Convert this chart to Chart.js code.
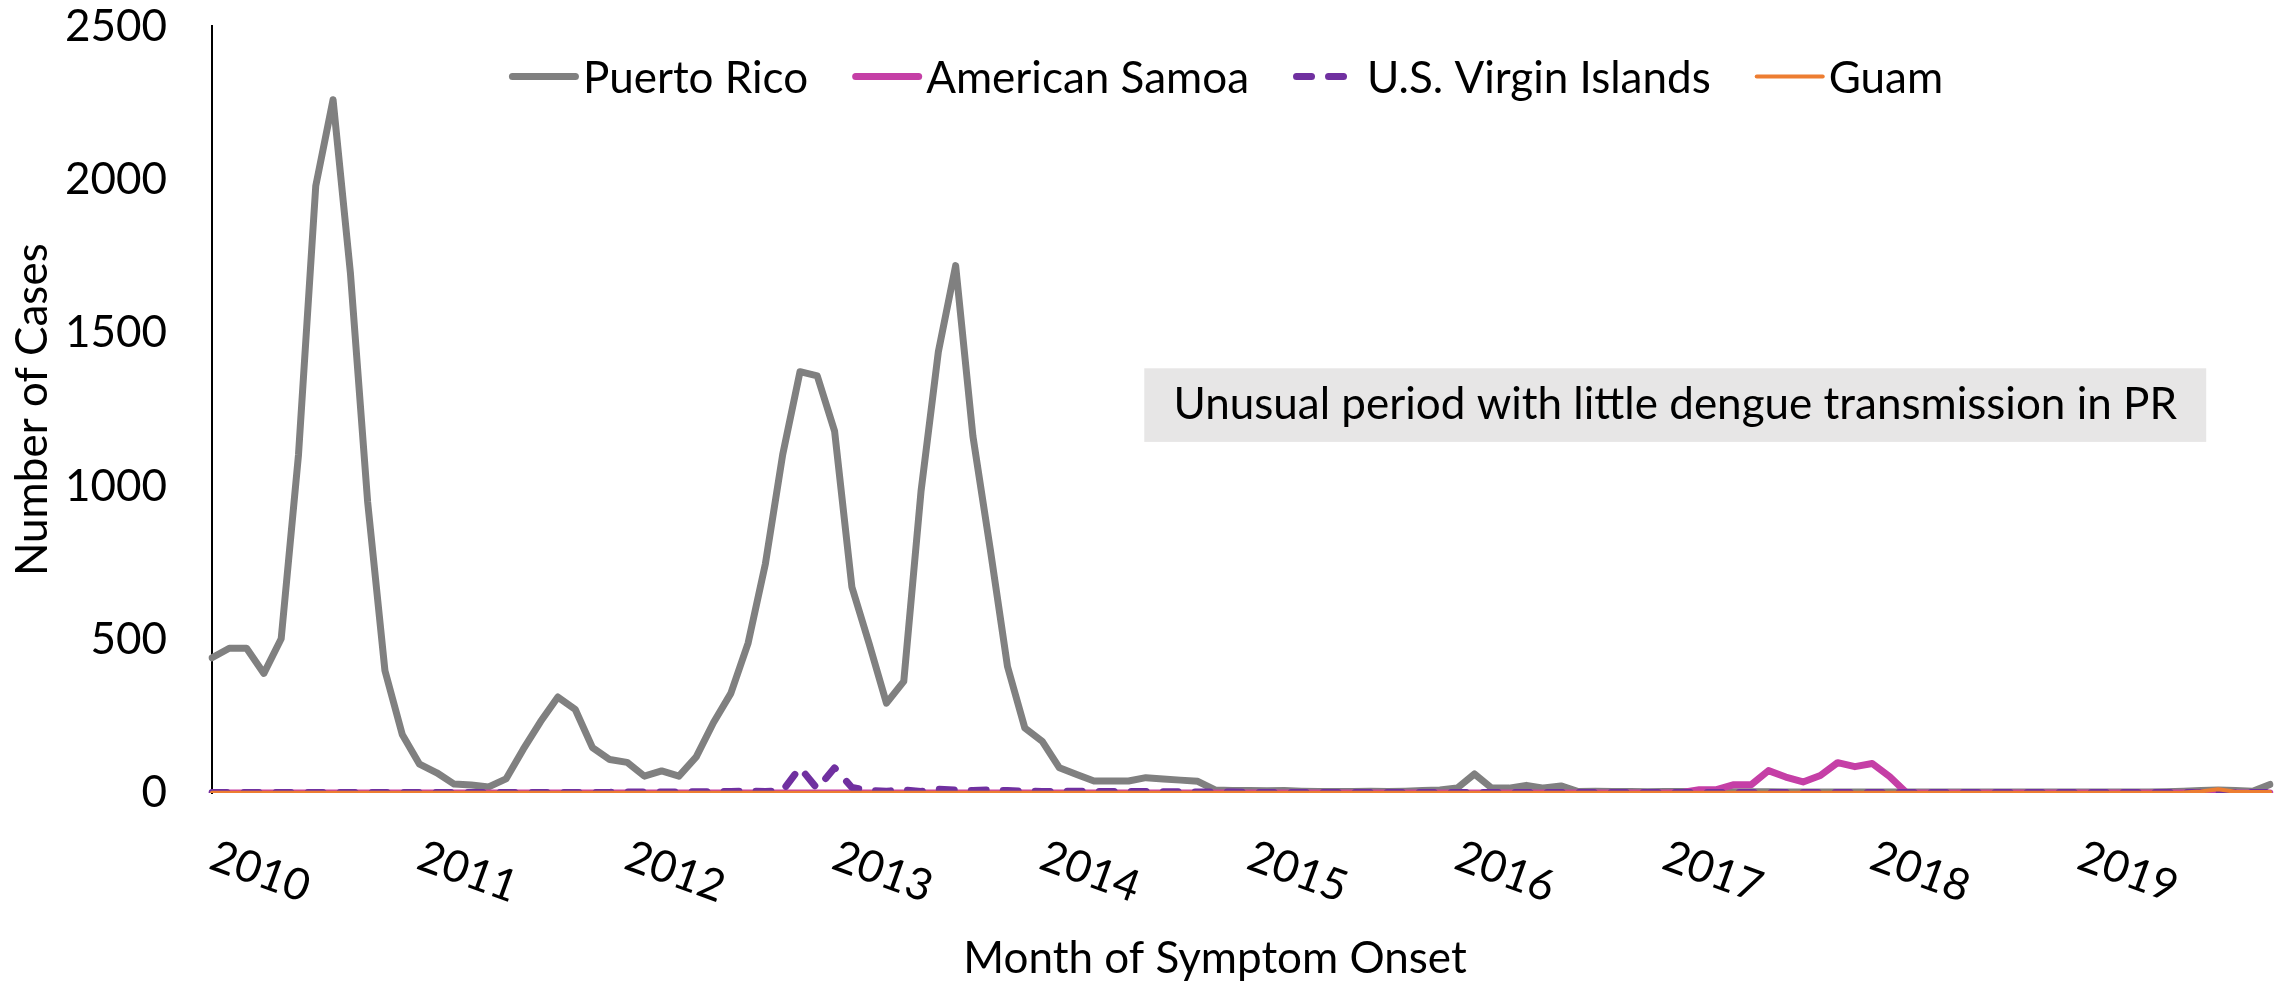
<!DOCTYPE html>
<html>
<head>
<meta charset="utf-8">
<title>Dengue cases by month of symptom onset</title>
<script src="https://cdn.jsdelivr.net/npm/chart.js@4.4.1/dist/chart.umd.min.js"></script>
<style>
    html, body { margin: 0; padding: 0; background: #fff; }
    #wrap { width: 2288px; height: 984px; }
</style>
</head>
<body>
<div id="wrap"><canvas id="casesChart" width="2288" height="984"></canvas></div>
<script>
const years = ["2010", "2011", "2012", "2013", "2014", "2015", "2016", "2017", "2018", "2019"];
const monthNames = ["Jan", "Feb", "Mar", "Apr", "May", "Jun", "Jul", "Aug", "Sep", "Oct", "Nov", "Dec"];

// monthly cases, Jan 2010 .. Dec 2019 (one row per year)
const puertoRico = [
    441, 472, 472, 390, 503, 1102, 1980, 2261, 1698, 949, 399, 191,
    94, 66, 29, 26, 20, 46, 143, 233, 313, 273, 148, 109,
    100, 55, 72, 55, 118, 230, 325, 489, 748, 1104, 1374, 1360,
    1180, 672, 487, 293, 364, 985, 1439, 1720, 1163, 796, 412, 212,
    169, 82, 60, 39, 39, 39, 50, 46, 42, 38, 10, 8,
    8, 7, 8, 6, 5, 5, 5, 6, 5, 6, 8, 10,
    16, 62, 16, 16, 25, 16, 23, 5, 6, 5, 5, 4,
    5, 5, 4, 4, 4, 4, 4, 3, 3, 3, 3, 3,
    3, 3, 3, 3, 3, 3, 3, 3, 3, 3, 3, 3,
    3, 3, 3, 3, 3, 4, 6, 8, 10, 8, 6, 28
];
const americanSamoa = [
    0, 0, 0, 0, 0, 0, 0, 0, 0, 0, 0, 0,
    0, 0, 0, 0, 0, 0, 0, 0, 0, 0, 0, 0,
    0, 0, 0, 0, 0, 0, 0, 0, 0, 0, 0, 0,
    0, 0, 0, 0, 0, 0, 0, 0, 0, 0, 0, 0,
    0, 0, 0, 0, 0, 0, 0, 0, 0, 0, 0, 0,
    0, 0, 0, 0, 0, 0, 0, 0, 0, 0, 0, 0,
    0, 0, 0, 0, 0, 0, 0, 0, 0, 0, 0, 0,
    0, 2, 11, 11, 27, 27, 73, 52, 36, 57, 99, 86,
    96, 54, 0, 0, 0, 0, 0, 0, 0, 0, 0, 0,
    0, 0, 0, 0, 0, 0, 0, 0, 0, 0, 0, 0
];
const virginIslands = [
    2, 2, 2, 2, 2, 2, 2, 2, 2, 2, 2, 2,
    2, 2, 2, 2, 2, 2, 2, 2, 2, 2, 2, 2,
    3, 3, 3, 3, 4, 4, 5, 6, 5, 8, 83, 14,
    82, 18, 8, 6, 10, 5, 12, 10, 8, 10, 8, 6,
    5, 5, 6, 5, 5, 5, 5, 4, 4, 3, 3, 3,
    2, 2, 2, 2, 2, 2, 2, 2, 2, 2, 2, 2,
    2, 2, 2, 2, 2, 2, 2, 2, 2, 2, 2, 2,
    2, 2, 2, 2, 2, 2, 2, 2, 2, 2, 2, 2,
    2, 2, 2, 2, 2, 2, 2, 2, 2, 2, 2, 2,
    2, 2, 2, 2, 2, 2, 2, 2, 2, 2, 2, 2
];
const guam = [
    1, 1, 1, 1, 1, 1, 1, 1, 1, 1, 1, 1,
    1, 1, 1, 1, 1, 1, 1, 1, 1, 1, 1, 1,
    1, 1, 1, 1, 1, 1, 1, 1, 1, 1, 1, 1,
    1, 1, 1, 1, 1, 1, 1, 1, 1, 1, 1, 1,
    1, 1, 1, 1, 1, 1, 1, 1, 1, 1, 1, 1,
    1, 1, 1, 1, 1, 1, 1, 1, 1, 1, 1, 1,
    1, 1, 1, 1, 1, 1, 1, 1, 1, 1, 1, 1,
    1, 1, 1, 1, 1, 1, 1, 1, 1, 1, 1, 1,
    1, 1, 1, 1, 1, 1, 1, 1, 1, 1, 1, 1,
    1, 1, 1, 1, 1, 1, 2, 5, 12, 4, 3, 3
];
const noteText = "Unusual period with little dengue transmission in PR";
const xTitle = "Month of Symptom Onset";

const months = years.flatMap(y => monthNames.map(m => `${m} ${y}`));
const fontFamily = "Lato";
const fontSize = 44;

// rotated year labels under the first month of each year, plus the x title
const yearLabels = {
    id: "yearLabels",
    afterDraw(chart) {
        const ctx = chart.ctx;
        const x = chart.scales.x;
        ctx.save();
        ctx.font = `${fontSize}px ${fontFamily}`;
        ctx.fillStyle = "#000";
        ctx.textAlign = "center";
        ctx.textBaseline = "middle";
        years.forEach((yr, k) => {
            const px = x.getPixelForValue(k * 12);
            ctx.save();
            ctx.translate(px + 48, x.top + 79);
            ctx.rotate(20 * Math.PI / 180);
            ctx.fillText(yr, 0, 0);
            ctx.restore();
        });
        ctx.fillText(xTitle, (x.left + x.right) / 2 - 26, x.top + 166);
        ctx.restore();
    }
};

// grey text box inside the plot
const noteBox = {
    id: "noteBox",
    beforeDatasetsDraw(chart) {
        const { ctx, chartArea: a } = chart;
        const w = a.right - a.left;
        const h = a.bottom - a.top;
        const left = a.left + w * 0.453;
        const right = a.left + w * 0.969;
        const top = a.top + h * 0.446;
        const bottom = a.top + h * 0.542;
        ctx.save();
        ctx.fillStyle = "#e7e6e6";
        ctx.fillRect(left, top, right - left, bottom - top);
        ctx.font = `${fontSize}px ${fontFamily}`;
        ctx.fillStyle = "#000";
        ctx.textAlign = "center";
        ctx.textBaseline = "middle";
        ctx.fillText(noteText, (left + right) / 2, (top + bottom) / 2);
        ctx.restore();
    }
};

// legend drawn inside the top of the plot area
const topLegend = {
    id: "topLegend",
    afterDatasetsDraw(chart) {
        const { ctx, chartArea: a } = chart;
        const sample = 70, gap = 4, spacing = 44;
        ctx.save();
        ctx.font = `${fontSize}px ${fontFamily}`;
        const items = chart.data.datasets.map(ds => ({ ds, w: ctx.measureText(ds.label).width }));
        const total = items.reduce((s, it) => s + sample + gap + it.w, 0) + spacing * (items.length - 1);
        let x = (a.left + a.right) / 2 - total / 2 - 15;
        const y = a.top + 50;
        items.forEach(it => {
            const cap = it.ds.borderWidth / 2;
            ctx.beginPath();
            ctx.strokeStyle = it.ds.borderColor;
            ctx.lineWidth = it.ds.borderWidth;
            ctx.lineCap = "round";
            ctx.setLineDash(it.ds.borderDash || []);
            ctx.moveTo(x + cap, y);
            ctx.lineTo(x + sample - cap, y);
            ctx.stroke();
            ctx.setLineDash([]);
            ctx.fillStyle = "#000";
            ctx.textAlign = "left";
            ctx.textBaseline = "middle";
            ctx.fillText(it.ds.label, x + sample + gap, y + 2);
            x += sample + gap + it.w + spacing;
        });
        ctx.restore();
    }
};

Chart.defaults.font.family = fontFamily;
Chart.defaults.color = "#000";

new Chart(document.getElementById("casesChart"), {
    type: "line",
    data: {
        labels: months,
        datasets: [
            {
                label: "Puerto Rico",
                data: puertoRico,
                borderColor: "#808080",
                borderWidth: 7,
                order: 3
            },
            {
                label: "American Samoa",
                data: americanSamoa,
                borderColor: "#c53fa6",
                borderWidth: 7,
                order: 2
            },
            {
                label: "U.S. Virgin Islands",
                data: virginIslands,
                borderColor: "#7030a0",
                borderWidth: 7,
                borderDash: [15, 17],
                borderCapStyle: "round",
                order: 1
            },
            {
                label: "Guam",
                data: guam,
                borderColor: "#ed7d31",
                borderWidth: 4,
                order: 0
            }
        ]
    },
    options: {
        responsive: false,
        animation: false,
        devicePixelRatio: 1,
        layout: { padding: { left: 6, right: 18, top: 26, bottom: 0 } },
        elements: {
            point: { radius: 0 },
            line: { tension: 0, borderJoinStyle: "round", borderCapStyle: "round", fill: false }
        },
        plugins: {
            legend: { display: false },
            tooltip: { enabled: false }
        },
        scales: {
            x: {
                offset: false,
                afterFit: scale => { scale.height = 191; },
                grid: { display: false, drawTicks: false },
                border: { display: false },
                ticks: { display: false },
                title: { display: false }
            },
            y: {
                min: 0,
                max: 2500,
                afterFit: scale => { scale.width = 206; },
                grid: {
                    display: true,
                    drawOnChartArea: false,
                    drawTicks: true,
                    tickLength: 45,
                    tickColor: "transparent"
                },
                border: { display: true, color: "#000", width: 2 },
                ticks: {
                    stepSize: 500,
                    padding: 0,
                    font: { size: fontSize },
                    color: "#000",
                    callback: v => String(v)
                },
                title: {
                    display: true,
                    text: "Number of Cases",
                    font: { size: fontSize },
                    color: "#000",
                    padding: 0
                }
            }
        }
    },
    plugins: [noteBox, topLegend, yearLabels]
});
</script>
</body>
</html>
